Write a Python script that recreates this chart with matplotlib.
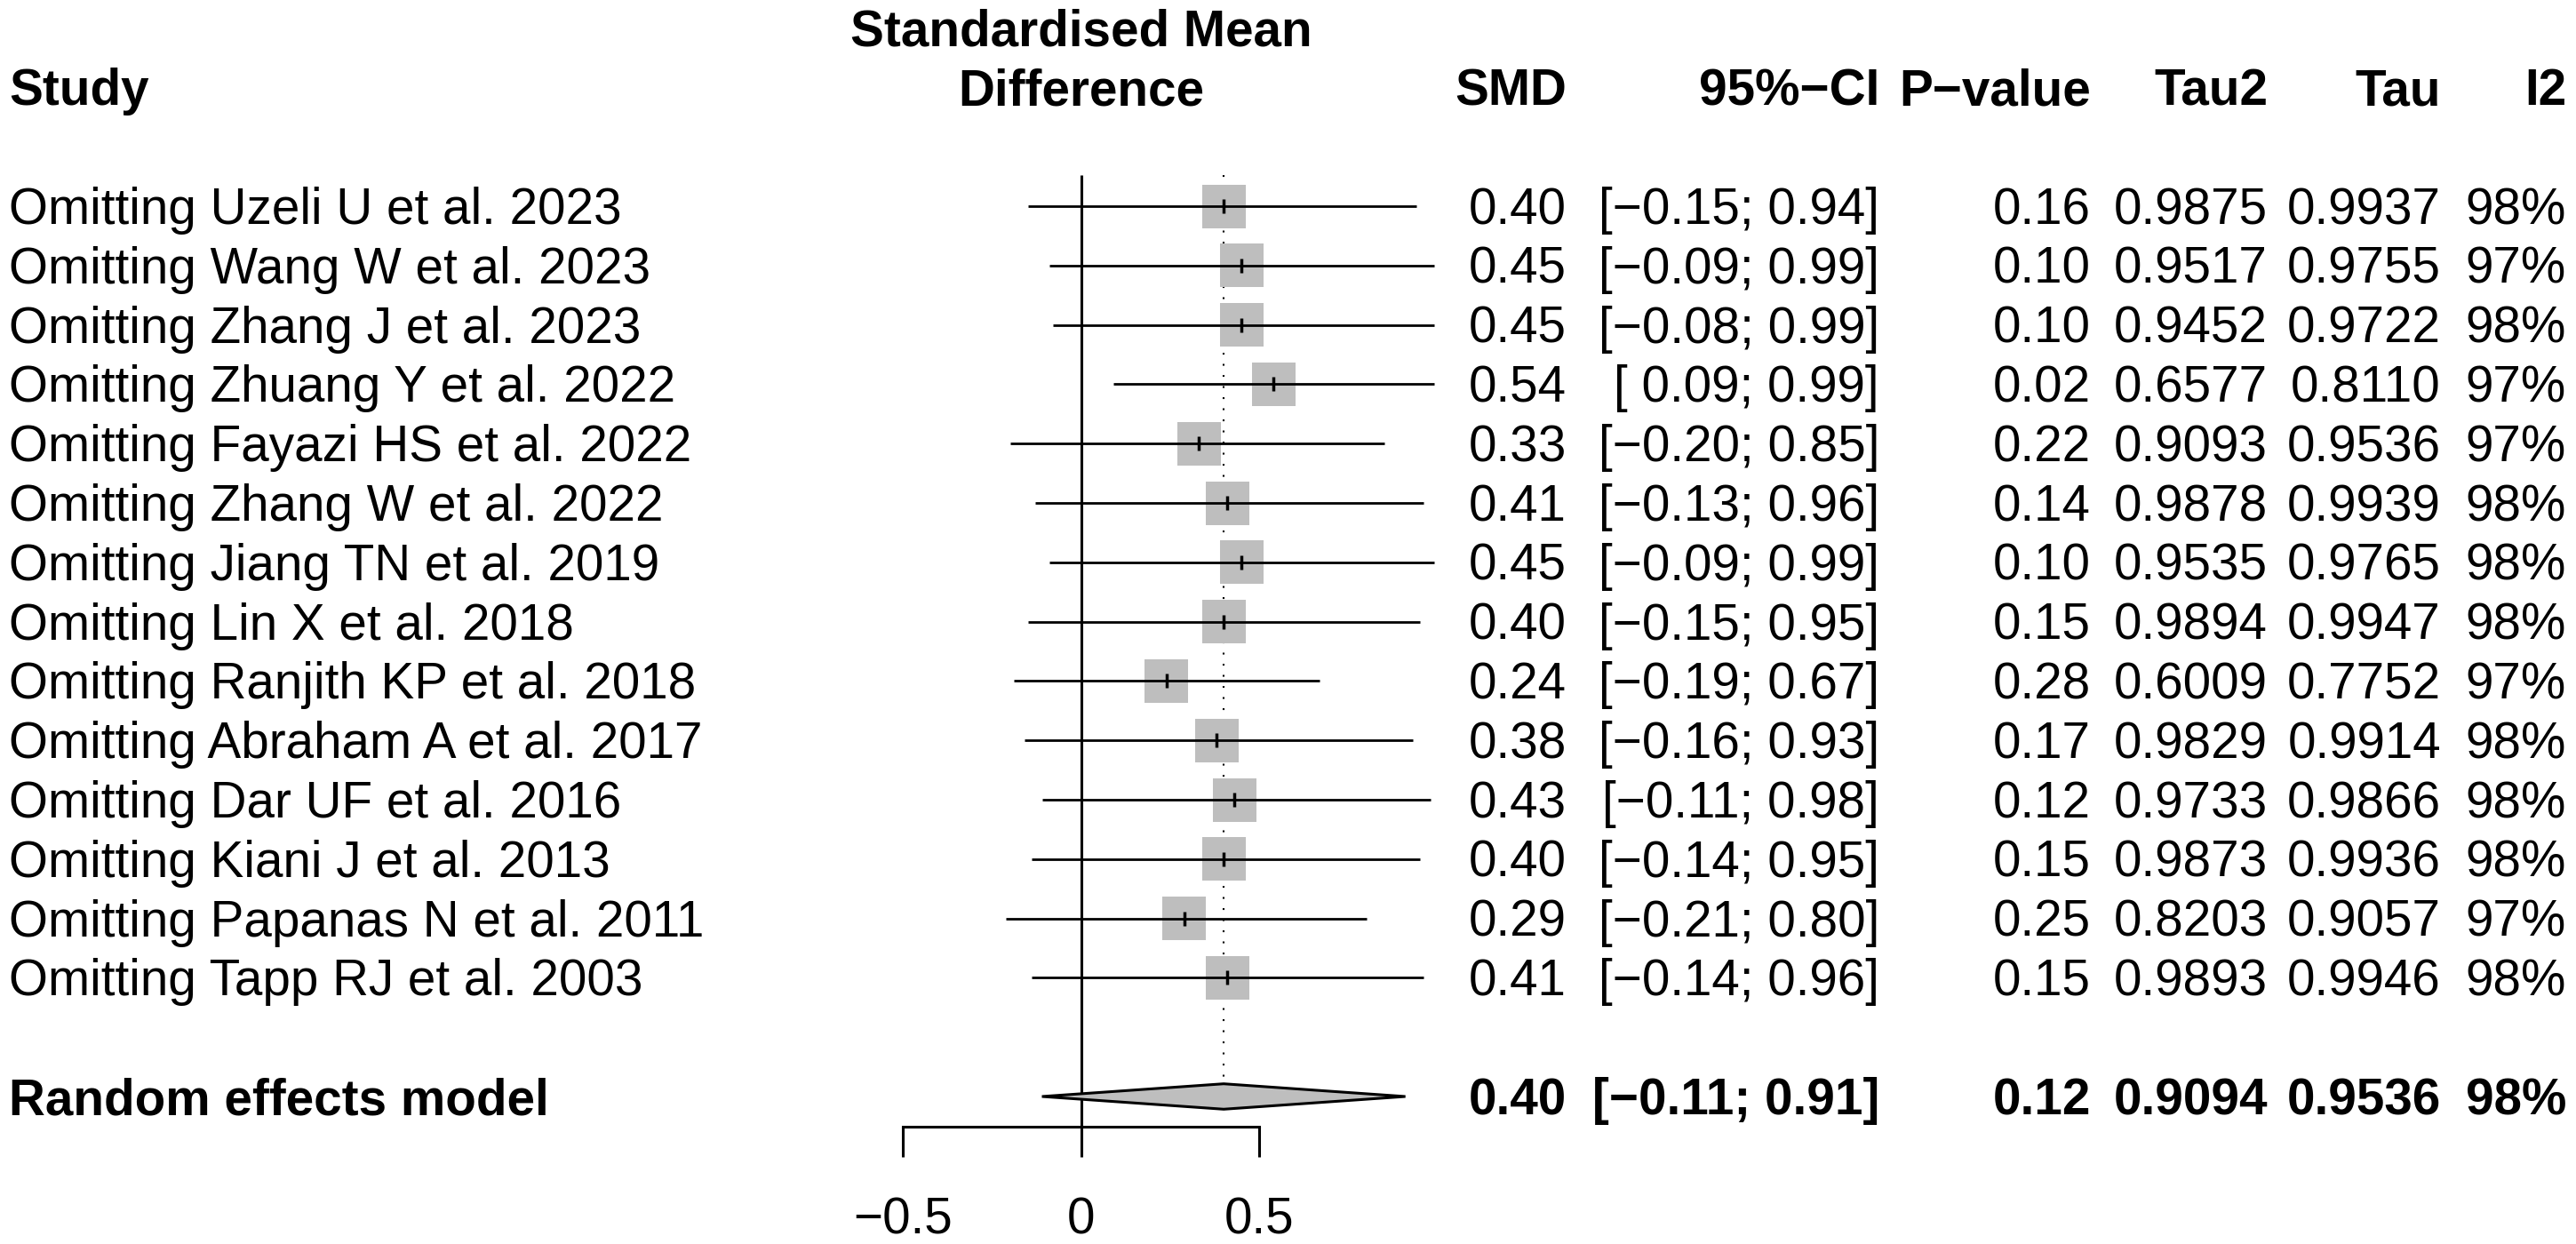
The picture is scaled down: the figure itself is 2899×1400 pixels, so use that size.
import matplotlib
matplotlib.use("Agg")
import matplotlib.pyplot as plt
from matplotlib.patches import Rectangle, Polygon
from matplotlib.transforms import blended_transform_factory

# ---------------- data ----------------
studies = ["Omitting Uzeli U et al. 2023", "Omitting Wang W et al. 2023",
           "Omitting Zhang J et al. 2023", "Omitting Zhuang Y et al. 2022",
           "Omitting Fayazi HS et al. 2022", "Omitting Zhang W et al. 2022",
           "Omitting Jiang TN et al. 2019", "Omitting Lin X et al. 2018",
           "Omitting Ranjith KP et al. 2018", "Omitting Abraham A et al. 2017",
           "Omitting Dar UF et al. 2016", "Omitting Kiani J et al. 2013",
           "Omitting Papanas N et al. 2011", "Omitting Tapp RJ et al. 2003"]
smd = [0.40, 0.45, 0.45, 0.54, 0.33, 0.41, 0.45, 0.40, 0.24, 0.38, 0.43, 0.40, 0.29, 0.41]
ci_lo = [-0.15, -0.09, -0.08, 0.09, -0.20, -0.13, -0.09, -0.15, -0.19, -0.16, -0.11, -0.14, -0.21, -0.14]
ci_hi = [0.94, 0.99, 0.99, 0.99, 0.85, 0.96, 0.99, 0.95, 0.67, 0.93, 0.98, 0.95, 0.80, 0.96]
pval = ["0.16", "0.10", "0.10", "0.02", "0.22", "0.14", "0.10", "0.15", "0.28", "0.17",
        "0.12", "0.15", "0.25", "0.15"]
tau2 = ["0.9875", "0.9517", "0.9452", "0.6577", "0.9093", "0.9878", "0.9535", "0.9894",
        "0.6009", "0.9829", "0.9733", "0.9873", "0.8203", "0.9893"]
tau = ["0.9937", "0.9755", "0.9722", "0.8110", "0.9536", "0.9939", "0.9765", "0.9947",
       "0.7752", "0.9914", "0.9866", "0.9936", "0.9057", "0.9946"]
i2 = ["98%", "97%", "98%", "97%", "97%", "98%", "98%", "98%", "97%", "98%", "98%", "98%",
      "97%", "98%"]

pooled_label = "Random effects model"
pooled_smd = 0.40
pooled_lo = -0.11
pooled_hi = 0.91
pooled_p = "0.12"
pooled_tau2 = "0.9094"
pooled_tau = "0.9536"
pooled_i2 = "98%"

col_headers = ["SMD", "95%\u2212CI", "P\u2212value", "Tau2", "Tau", "I2"]
xticks = [-0.5, 0, 0.5]
xtick_labels = ["\u22120.5", "0", "0.5"]

# ---------------- layout ----------------
W, H = 2899, 1400
DPI = 100
FONT = "Liberation Sans"
FS = 40.8

x0_px = 1216.7          # pixel of SMD = 0
unit_px = 401.0         # pixels per SMD unit
row0_px = 232.0         # pixel of first study row
row_px = 66.8           # pixels per row

fig = plt.figure(figsize=(W / DPI, H / DPI), dpi=DPI)
ax = fig.add_axes([0, 0, 1, 1])
ax.set_xlim(-x0_px / unit_px, (W - x0_px) / unit_px)
ax.set_ylim((H - row0_px) / row_px, -row0_px / row_px)
ax.axis("off")

tr = blended_transform_factory(fig.transFigure, ax.transData)
base = 0.30  # baseline offset (rows) below row centre

def fx(px):
    return px / W

n = len(studies)
rows = list(range(n))
pooled_row = n + 1

def fmt(v):
    s = f"{abs(v):.2f}"
    return ("\u2212" + s) if v < 0 else (" " + s)

def ci_text(lo, hi):
    return f"[{fmt(lo)};{fmt(hi)}]"

# headers
ax.text(fx(10), -2 + base, "Study", transform=tr, fontsize=FS, fontweight="bold",
        family=FONT, ha="left", va="baseline")
ax.text(0, -3 + base, "Standardised Mean", fontsize=FS, fontweight="bold",
        family=FONT, ha="center", va="baseline")
ax.text(0, -2 + base, "Difference", fontsize=FS, fontweight="bold",
        family=FONT, ha="center", va="baseline")

col_right_px = [1763, 2115, 2353, 2552, 2747, 2888]
for h, xr in zip(col_headers, col_right_px):
    ax.text(fx(xr), -2 + base, h, transform=tr, fontsize=FS, fontweight="bold",
            family=FONT, ha="right", va="baseline")

# study rows
for r, name, e, lo, hi, p, t2, t, ii in zip(rows, studies, smd, ci_lo, ci_hi,
                                             pval, tau2, tau, i2):
    ax.text(fx(10), r + base, name, transform=tr, fontsize=FS, family=FONT,
            ha="left", va="baseline")
    vals = [f"{e:.2f}", ci_text(lo, hi), p, t2, t, ii]
    for v, xr in zip(vals, col_right_px):
        ax.text(fx(xr), r + base, v, transform=tr, fontsize=FS, family=FONT,
                ha="right", va="baseline")

# pooled row text
ax.text(fx(10), pooled_row + base, pooled_label, transform=tr, fontsize=FS,
        fontweight="bold", family=FONT, ha="left", va="baseline")
pvals = [f"{pooled_smd:.2f}", ci_text(pooled_lo, pooled_hi), pooled_p,
         pooled_tau2, pooled_tau, pooled_i2]
for v, xr in zip(pvals, col_right_px):
    ax.text(fx(xr), pooled_row + base, v, transform=tr, fontsize=FS,
            fontweight="bold", family=FONT, ha="right", va="baseline")

# ---------------- graphics ----------------
top = -0.53
axis_y = pooled_row + 0.51
tick_len = 0.51
diam_h = 14.3 / row_px

# zero line
ax.plot([0, 0], [top, axis_y], color="black", lw=2.2, solid_capstyle="butt", zorder=1)
# pooled dotted line
ax.plot([pooled_smd, pooled_smd], [top, pooled_row - diam_h], color="black",
        lw=1.5, linestyle=(0, (1, 5)), zorder=1)

sq_w = 49 / unit_px
sq_h = 49 / row_px
for r, e, lo, hi in zip(rows, smd, ci_lo, ci_hi):
    ax.add_patch(Rectangle((e - sq_w / 2, r - sq_h / 2), sq_w, sq_h,
                           facecolor="#bebebe", edgecolor="none", zorder=2))
    ax.plot([lo, hi], [r, r], color="black", lw=2.0, solid_capstyle="butt", zorder=3)
    ax.plot([e], [r], marker="|", markersize=11.5, markeredgewidth=2.5,
            color="black", zorder=4)

# diamond
ax.add_patch(Polygon([(pooled_lo, pooled_row), (pooled_smd, pooled_row - diam_h),
                      (pooled_hi, pooled_row), (pooled_smd, pooled_row + diam_h)],
                     closed=True, facecolor="#bebebe", edgecolor="black", lw=2.2,
                     zorder=3))

# x axis
ax.plot([min(xticks), max(xticks)], [axis_y, axis_y], color="black", lw=2.2,
        solid_capstyle="projecting", zorder=1)
for t, lab in zip(xticks, xtick_labels):
    ax.plot([t, t], [axis_y, axis_y + tick_len], color="black", lw=2.2,
            solid_capstyle="butt", zorder=1)
    ax.text(t, pooled_row + 2.31, lab, fontsize=FS, family=FONT, ha="center",
            va="baseline")

fig.savefig("out.png", dpi=DPI, facecolor="white")
